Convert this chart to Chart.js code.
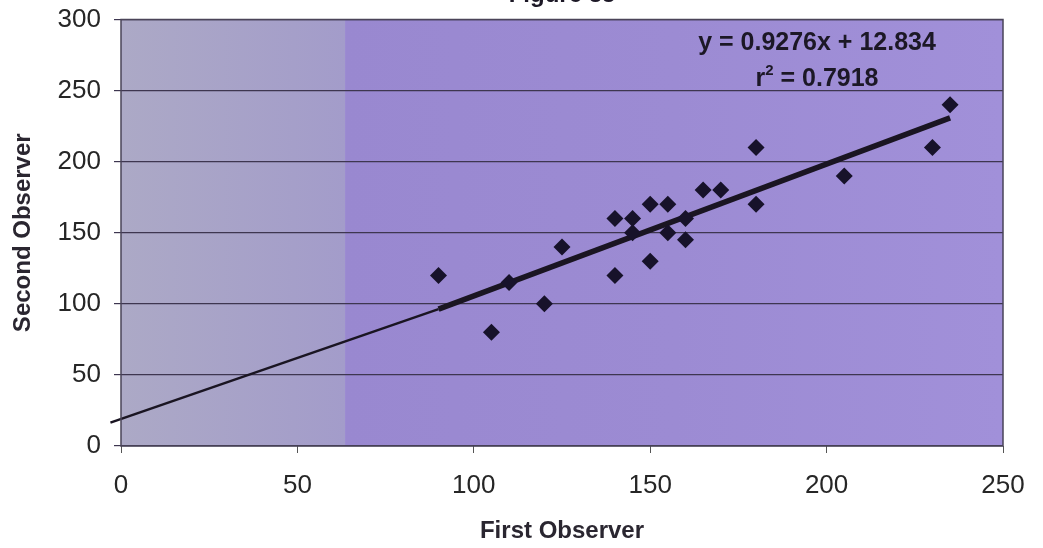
<!DOCTYPE html>
<html>
<head>
<meta charset="utf-8">
<script src="https://cdn.jsdelivr.net/npm/chart.js@4.4.1/dist/chart.umd.min.js"></script>
<style>
  html, body { margin: 0; padding: 0; background: #fff; }
  #wrap { width: 1043px; height: 548px; position: relative; }
</style>
</head>
<body>
<div id="wrap"><canvas id="scatterChart"></canvas></div>
<script>
// observer readings
const firstObserver  = [90, 105, 110, 120, 125, 140, 140, 145, 145, 150, 150, 155, 155, 160, 160, 165, 170, 180, 180, 205, 230, 235];
const secondObserver = [120, 80, 115, 100, 140, 120, 160, 160, 150, 170, 130, 170, 150, 160, 145, 180, 180, 210, 170, 190, 210, 240];

// trendline ends as drawn in the figure
const trendX = [90, 235];
const trendY = [96.3, 230.8];
const backX = [-3, 90];
const backY = [16.4, 96.3];

const xTicks = [0, 50, 100, 150, 200, 250];
const yTicks = [0, 50, 100, 150, 200, 250, 300];

const equationText = "y = 0.9276x + 12.834";
const rSquaredText = "0.7918";
const titleText = "Figure 35";

const fontFamily = "'Liberation Sans', Arial, sans-serif";

const points = firstObserver.map((x, i) => ({ x: x, y: secondObserver[i] }));
const trend = trendX.map((x, i) => ({ x: x, y: trendY[i] }));
const backTrend = backX.map((x, i) => ({ x: x, y: backY[i] }));

// plot background: grey-lavender left band, purple the rest
const plotBackground = {
  id: "plotBackground",
  beforeDraw(chart) {
    const { ctx, chartArea: a, scales } = chart;
    const split = scales.x.getPixelForValue(63.5);
    ctx.save();
    let g = ctx.createLinearGradient(a.left, 0, split, 0);
    g.addColorStop(0, "#aca9c6");
    g.addColorStop(1, "#a39cca");
    ctx.fillStyle = g;
    ctx.fillRect(a.left, a.top, split - a.left, a.bottom - a.top);
    g = ctx.createLinearGradient(split, 0, a.right, 0);
    g.addColorStop(0, "#9988d0");
    g.addColorStop(0.5, "#9c8bd3");
    g.addColorStop(1, "#a190d9");
    ctx.fillStyle = g;
    ctx.fillRect(split, a.top, a.right - split, a.bottom - a.top);
    ctx.restore();
  },
  afterDatasetsDraw(chart) {
    const { ctx, chartArea: a } = chart;
    ctx.save();
    ctx.strokeStyle = "#4a4458";
    ctx.lineWidth = 1.5;
    ctx.strokeRect(a.left, a.top, a.right - a.left, a.bottom - a.top);
    ctx.restore();
  }
};

// equation label, r-squared and the cut-off title
const labels = {
  id: "labels",
  afterDraw(chart) {
    const { ctx } = chart;
    ctx.save();
    ctx.fillStyle = "#1c1826";
    ctx.font = "bold 25px " + fontFamily;
    ctx.textAlign = "center";
    ctx.textBaseline = "alphabetic";
    ctx.fillText(equationText, 817, 50);

    // r² = 0.7918
    const rest = " = " + rSquaredText;
    const wr = ctx.measureText("r").width;
    const wrest = ctx.measureText(rest).width;
    ctx.font = "bold 15px " + fontFamily;
    const ws = ctx.measureText("2").width;
    const total = wr + ws + wrest;
    let x0 = 817 - total / 2;
    ctx.textAlign = "left";
    ctx.font = "bold 25px " + fontFamily;
    ctx.fillText("r", x0, 86);
    ctx.font = "bold 15px " + fontFamily;
    ctx.fillText("2", x0 + wr, 75);
    ctx.font = "bold 25px " + fontFamily;
    ctx.fillText(rest, x0 + wr + ws, 86);

    ctx.textAlign = "center";
    ctx.font = "bold 24px " + fontFamily;
    ctx.fillText(titleText, 562, 1.5);
    ctx.restore();
  }
};

new Chart(document.getElementById("scatterChart"), {
  type: "scatter",
  data: {
    datasets: [
      {
        label: "Observers",
        data: points,
        pointStyle: "rectRot",
        pointRadius: 8.5,
        pointHoverRadius: 8.5,
        backgroundColor: "#17122a",
        borderColor: "#17122a",
        borderWidth: 0,
        order: 1
      },
      {
        label: "Trend",
        type: "line",
        data: trend,
        borderColor: "#1a1522",
        borderWidth: 5.5,
        pointRadius: 0,
        fill: false,
        order: 2
      },
      {
        label: "Trend back",
        type: "line",
        data: backTrend,
        borderColor: "#1a1522",
        borderWidth: 2.5,
        pointRadius: 0,
        fill: false,
        clip: false,
        order: 3
      }
    ]
  },
  options: {
    responsive: true,
    maintainAspectRatio: false,
    animation: false,
    layout: { padding: { top: 19.5, right: 40, left: 0, bottom: 0 } },
    plugins: {
      legend: { display: false },
      tooltip: { enabled: false },
      title: { display: false }
    },
    scales: {
      x: {
        type: "linear",
        min: 0,
        max: 250,
        afterBuildTicks: (s) => { s.ticks = xTicks.map(v => ({ value: v })); },
        afterFit: (s) => { s.height = 102; s.paddingLeft = 0; s.paddingRight = 0; },
        grid: {
          display: true,
          drawOnChartArea: false,
          drawTicks: true,
          tickLength: 7,
          color: "#555"
        },
        border: { display: false },
        ticks: {
          color: "#262626",
          font: { family: fontFamily, size: 26 },
          padding: 17,
          maxRotation: 0
        },
        title: {
          display: true,
          text: "First Observer",
          color: "#2a2630",
          font: { family: fontFamily, size: 24, weight: "bold" },
          padding: { top: 4, bottom: 2 }
        }
      },
      y: {
        type: "linear",
        min: 0,
        max: 300,
        afterBuildTicks: (s) => { s.ticks = yTicks.map(v => ({ value: v })); },
        afterFit: (s) => { s.width = 121; s.paddingTop = 0; s.paddingBottom = 0; },
        grid: {
          display: true,
          drawOnChartArea: true,
          drawTicks: true,
          tickLength: 7,
          color: "#3e3650",
          lineWidth: 1.2
        },
        border: { display: false },
        ticks: {
          color: "#262626",
          font: { family: fontFamily, size: 26 },
          padding: 13
        },
        title: {
          display: true,
          text: "Second Observer",
          color: "#2a2630",
          font: { family: fontFamily, size: 24, weight: "bold" },
          padding: { top: 9, bottom: 6 }
        }
      }
    }
  },
  plugins: [plotBackground, labels]
});
</script>
</body>
</html>
